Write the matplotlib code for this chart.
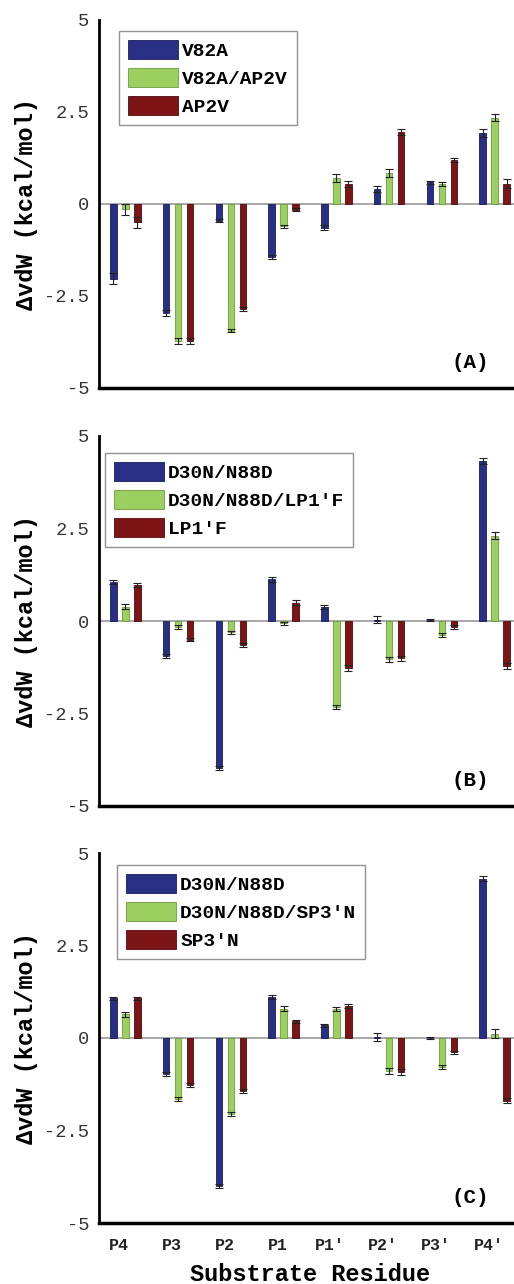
import matplotlib
matplotlib.use("Agg")
import matplotlib.pyplot as plt
from matplotlib.transforms import ScaledTranslation
import numpy as np

residues = ["P4", "P3", "P2", "P1", "P1'", "P2'", "P3'", "P4'"]

# Panel A
a_labels = ["V82A", "V82A/AP2V", "AP2V"]
a_vals = [
    [-2.03, -2.95, -0.45, -1.44, -0.64, 0.41, 0.59, 1.93],
    [-0.14, -3.73, -3.44, -0.61, 0.71, 0.84, 0.55, 2.35],
    [-0.50, -3.73, -2.86, -0.15, 0.55, 1.95, 1.20, 0.55],
]
a_err = [
    [0.15, 0.08, 0.05, 0.06, 0.08, 0.08, 0.04, 0.10],
    [0.15, 0.08, 0.05, 0.05, 0.10, 0.10, 0.05, 0.10],
    [0.15, 0.08, 0.05, 0.05, 0.08, 0.08, 0.05, 0.12],
]

# Panel B
b_labels = ["D30N/N88D", "D30N/N88D/LP1'F", "LP1'F"]
b_vals = [
    [1.06, -0.95, -3.98, 1.13, 0.37, 0.04, 0.02, 4.33],
    [0.39, -0.17, -0.31, -0.06, -2.33, -1.04, -0.38, 2.31],
    [0.97, -0.50, -0.65, 0.50, -1.28, -1.01, -0.17, -1.22],
]
b_err = [
    [0.05, 0.05, 0.05, 0.07, 0.05, 0.10, 0.03, 0.08],
    [0.07, 0.05, 0.05, 0.04, 0.05, 0.08, 0.05, 0.10],
    [0.05, 0.05, 0.05, 0.06, 0.08, 0.06, 0.05, 0.08],
]

# Panel C
c_labels = ["D30N/N88D", "D30N/N88D/SP3'N", "SP3'N"]
c_vals = [
    [1.07, -0.97, -4.00, 1.11, 0.34, 0.03, 0.00, 4.30],
    [0.64, -1.65, -2.05, 0.79, 0.78, -0.88, -0.79, 0.12],
    [1.07, -1.27, -1.44, 0.45, 0.87, -0.92, -0.39, -1.69],
]
c_err = [
    [0.05, 0.05, 0.05, 0.06, 0.05, 0.10, 0.03, 0.07],
    [0.06, 0.05, 0.05, 0.07, 0.05, 0.08, 0.06, 0.12],
    [0.05, 0.05, 0.05, 0.04, 0.05, 0.08, 0.05, 0.08],
]

panel_tags = ["(A)", "(B)", "(C)"]
colors = ["#2a2f86", "#9bd060", "#7d1517"]
edges = ["#1a1d5a", "#6e9a3e", "#4e0c0d"]

MONO = "Liberation Mono"
W, H = 514, 1284
fig = plt.figure(figsize=(W / 100, H / 100), dpi=100)

# axes boxes in pixels: (top, bottom)
left_px, right_px = 99, 521
boxes = [(20, 388), (436, 806), (853, 1223)]
legend_boxes = [(119, 31), (105, 453), (117, 865)]

panels = [(a_labels, a_vals, a_err), (b_labels, b_vals, b_err), (c_labels, c_vals, c_err)]
x = np.arange(len(residues))
bw = 0.125
off = 0.227

for k, ((labels, vals, errs), (top, bot)) in enumerate(zip(panels, boxes)):
    ax = fig.add_axes([left_px / W, 1 - bot / H, (right_px - left_px) / W, (bot - top) / H])
    handles = []
    for j in range(3):
        h = ax.bar(x + (j - 1) * off, vals[j], width=bw, color=colors[j],
                   edgecolor=edges[j], linewidth=0.6, label=labels[j], zorder=2)
        ax.errorbar(x + (j - 1) * off, vals[j], yerr=errs[j], fmt="none",
                    ecolor="#222222", elinewidth=0.8, capsize=3, capthick=0.8, zorder=3)
        handles.append(h)
    ax.axhline(0, color="#999999", lw=1.2, zorder=1)
    ax.set_xlim(-0.5, 7.5)
    ax.set_ylim(-5, 5)
    ax.set_yticks([-5, -2.5, 0, 2.5, 5])
    ax.set_yticklabels(["-5", "-2.5", "0", "2.5", "5"])
    for s in ["top", "right"]:
        ax.spines[s].set_visible(False)
    ax.spines["left"].set_linewidth(2.0)
    ax.spines["bottom"].set_linewidth(2.5)
    ax.tick_params(axis="y", length=0, pad=7, labelsize=13.5, labelcolor="#333333")
    for t in ax.get_yticklabels():
        t.set_fontfamily(MONO)
    ax.set_ylabel("ΔvdW (kcal/mol)", fontfamily=MONO, fontweight="bold", fontsize=17)
    ax.yaxis.set_label_coords(-0.144, 0.5)
    ax.set_xticks(x)
    if k == 2:
        ax.set_xticklabels(residues, fontfamily=MONO, fontweight="bold", fontsize=12)
        ax.tick_params(axis="x", length=0, pad=11, labelcolor="#222222")
        shift = ScaledTranslation(-6 / 100, 0, fig.dpi_scale_trans)
        for t in ax.get_xticklabels():
            t.set_transform(t.get_transform() + shift)
        ax.set_xlabel("Substrate Residue", fontfamily=MONO, fontweight="bold",
                      fontsize=17, labelpad=7)
    else:
        ax.tick_params(axis="x", length=0, labelbottom=False)
    ax.text(0.88, 0.07, panel_tags[k], transform=ax.transAxes, ha="center", va="center",
            fontfamily=MONO, fontweight="bold", fontsize=15)
    lx, ly = legend_boxes[k]
    leg = ax.legend(handles=handles, loc="upper left",
                    bbox_to_anchor=(lx / W, 1 - ly / H), bbox_transform=fig.transFigure,
                    prop={"family": MONO, "weight": "bold", "size": 14},
                    frameon=True, fancybox=False, handlelength=2.6, handleheight=1.15,
                    handletextpad=0.2, labelspacing=0.4, borderpad=0.45,
                    borderaxespad=0)
    leg.get_frame().set_edgecolor("#777777")
    leg.get_frame().set_linewidth(1.0)

fig.savefig("out.png", dpi=100)
